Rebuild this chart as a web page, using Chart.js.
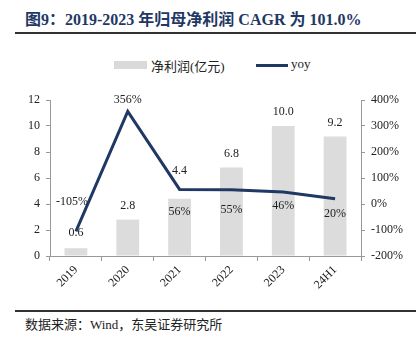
<!DOCTYPE html>
<html>
<head>
<meta charset="utf-8">
<script src="https://cdn.jsdelivr.net/npm/chart.js@4"></script>
<style>
  body { margin: 0; background: #fff; width: 416px; height: 347px; position: relative; overflow: hidden; }
  #title { position: absolute; left: 25px; top: 6px; font: bold 16px "Liberation Serif", "Noto Sans CJK SC", serif; color: #1f3864; white-space: nowrap; }
  .rule { position: absolute; left: 15px; right: 0; height: 2px; background: #333; }
  #legend { position: absolute; top: 56px; left: 0; width: 416px; height: 18px; font: 13px "Liberation Serif", "Noto Sans CJK SC", serif; color: #222; }
  #legend span { position: absolute; white-space: nowrap; }
  #source { position: absolute; left: 25px; top: 314px; font: 13px "Liberation Serif", "Noto Sans CJK SC", serif; color: #222; white-space: nowrap; }
  #wrap { position: absolute; left: 0; top: 80px; width: 416px; height: 221px; }
</style>
</head>
<body>
<div id="title">图9：2019-2023 年归母净利润 CAGR 为 101.0%</div>
<div class="rule" style="top:32px"></div>
<div id="legend">
  <span style="left:114px;top:5px;width:33px;height:8px;background:#d9d9d9"></span>
  <span style="left:151px;top:0px">净利润(亿元)</span>
  <span style="left:256px;top:8px;width:32px;height:3px;background:#1f3864"></span>
  <span style="left:291px;top:0px">yoy</span>
</div>
<div id="wrap"><canvas id="chart"></canvas></div>
<div class="rule" style="top:310px"></div>
<div id="source">数据来源：Wind，东吴证券研究所</div>
<script>
const years = ["2019", "2020", "2021", "2022", "2023", "24H1"];
const profit = [0.6, 2.8, 4.4, 6.8, 10.0, 9.2];
const yoy = [-105, 356, 56, 55, 46, 20];
const profitTicks = [0, 2, 4, 6, 8, 10, 12];
const yoyTicks = [-200, -100, 0, 100, 200, 300, 400];

const navy = "#1f3864";
const tickFont = { family: "Liberation Serif", size: 12 };

// label offsets in px from the mark (dx, dy)
const barLabelOff = [15, 14, 28, 14, 14, 14];
const lineLabelOff = [[-4, -29], [0, -12], [0, 22], [0, 20], [0, 14], [0, 15]];

const labelPlugin = {
    id: "labels",
    afterDatasetsDraw(chart) {
        const ctx = chart.ctx;
        ctx.save();
        ctx.font = "12px 'Liberation Serif'";
        ctx.fillStyle = "#222";
        ctx.textAlign = "center";
        ctx.textBaseline = "middle";
        chart.getDatasetMeta(1).data.forEach((bar, i) => {
            ctx.fillText(profit[i].toFixed(1), bar.x, bar.y - barLabelOff[i]);
        });
        chart.getDatasetMeta(0).data.forEach((pt, i) => {
            ctx.fillText(yoy[i] + "%", pt.x + lineLabelOff[i][0], pt.y + lineLabelOff[i][1]);
        });
        ctx.restore();
    }
};

new Chart(document.getElementById("chart"), {
    data: {
        labels: years,
        datasets: [{
            type: "line",
            label: "yoy",
            data: yoy,
            yAxisID: "y1",
            borderColor: navy,
            borderWidth: 3,
            pointRadius: 0,
            tension: 0,
            order: 0
        }, {
            type: "bar",
            label: "净利润(亿元)",
            data: profit,
            yAxisID: "y",
            backgroundColor: "#dcdcdc",
            barPercentage: 0.88,
            categoryPercentage: 0.5,
            order: 1
        }]
    },
    options: {
        responsive: true,
        maintainAspectRatio: false,
        animation: false,
        layout: { padding: { top: 20, left: 0, right: 0, bottom: 0 } },
        plugins: { legend: { display: false }, tooltip: { enabled: false } },
        scales: {
            x: {
                offset: true,
                grid: { display: true, drawOnChartArea: false, offset: true, color: "#999", tickLength: 5 },
                border: { color: "#999" },
                ticks: { font: tickFont, color: "#222", minRotation: 45, maxRotation: 45, padding: 2 },
                afterFit: s => { s.height = 45; }
            },
            y: {
                position: "left",
                min: 0, max: 12,
                afterBuildTicks: s => { s.ticks = profitTicks.map(v => ({ value: v })); },
                grid: { drawOnChartArea: false, color: "#999", tickLength: 4 },
                border: { color: "#999" },
                ticks: { font: tickFont, color: "#222", padding: 6 },
                afterFit: s => { s.width = 50; }
            },
            y1: {
                position: "right",
                min: -200, max: 400,
                afterBuildTicks: s => { s.ticks = yoyTicks.map(v => ({ value: v })); },
                grid: { drawOnChartArea: false, color: "#999", tickLength: 4 },
                border: { color: "#999" },
                ticks: { font: tickFont, color: "#222", padding: 6, callback: v => v + "%" },
                afterFit: s => { s.width = 55; }
            }
        }
    },
    plugins: [labelPlugin]
});
</script>
</body>
</html>
